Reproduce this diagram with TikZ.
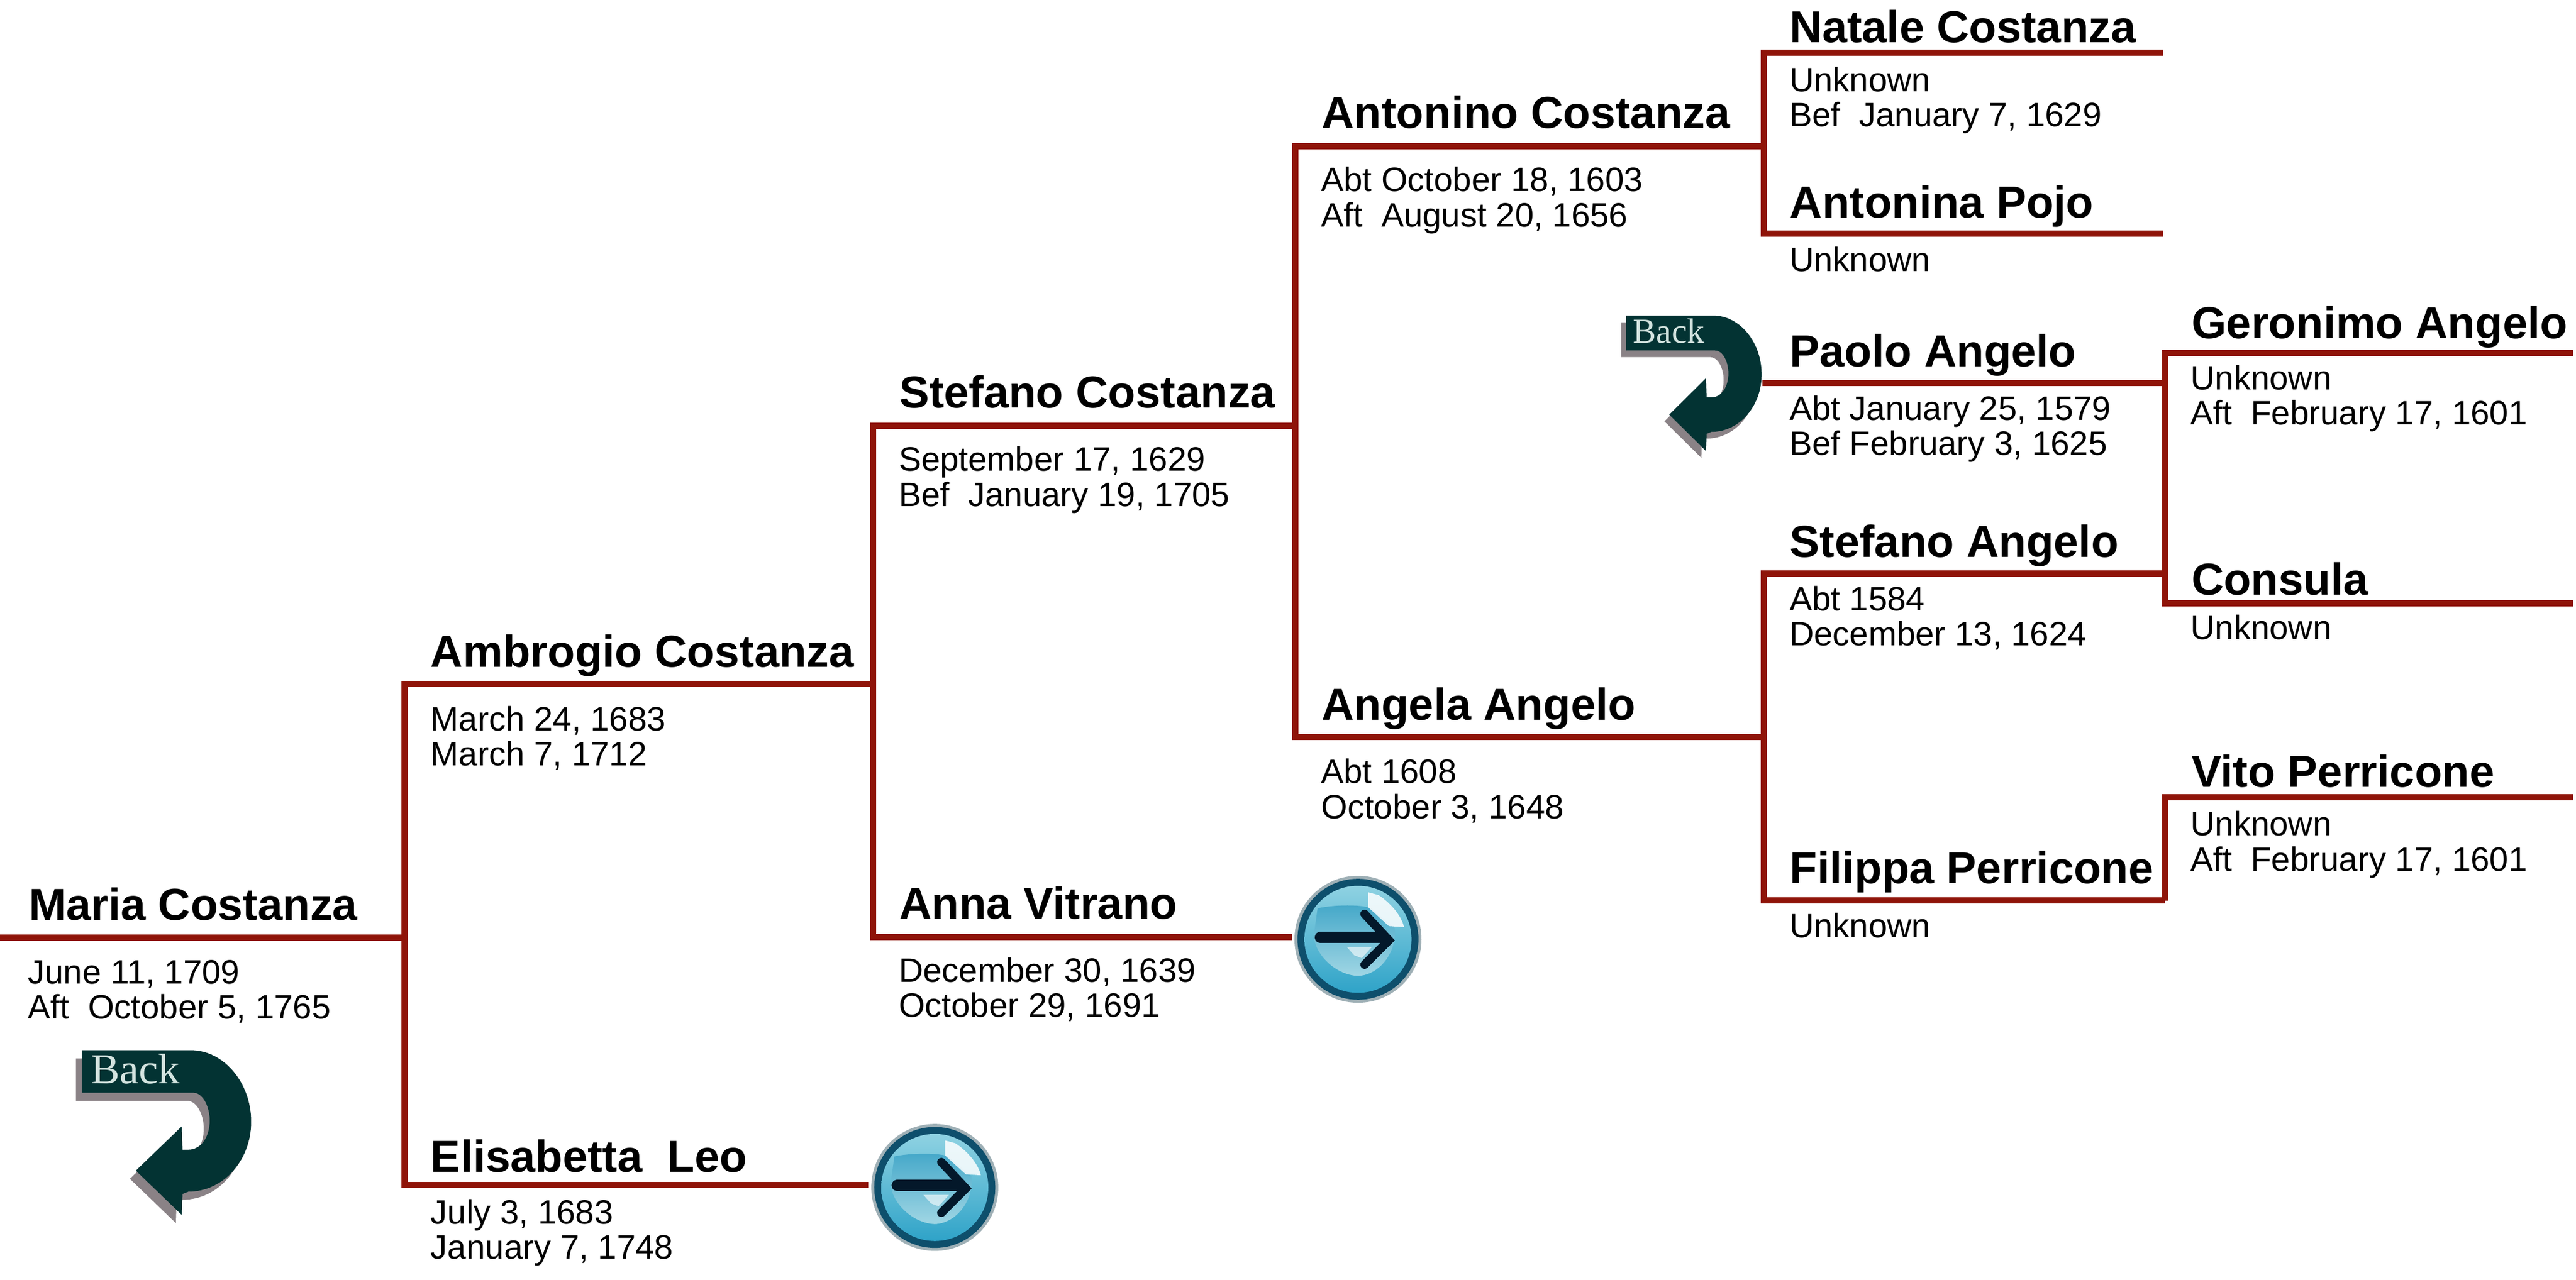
\documentclass[tikz,border=0pt]{standalone}
\usepackage{fontspec}
\setmainfont{Liberation Sans}
\newfontfamily\backfont{Liberation Serif}
\definecolor{linkred}{HTML}{8F1409}
\definecolor{backgreen}{HTML}{033333}
\definecolor{backshadow}{HTML}{8A8286}
\definecolor{backtext}{HTML}{D4E4E0}
\definecolor{orbrim}{HTML}{0E4F6C}
\definecolor{orbedge}{HTML}{9FB0B6}
\definecolor{orbarrow}{HTML}{04182A}
\definecolor{orbA1}{HTML}{8CD0E2}
\definecolor{orbA2}{HTML}{2A9CC2}
\definecolor{orbB1}{HTML}{8FD2E2}
\definecolor{orbB2}{HTML}{2FA3C8}
\definecolor{orbC1}{HTML}{45A8C9}
\definecolor{orbC2}{HTML}{A0D6E4}
\tikzset{
  person/.style={anchor=base west,inner sep=0pt,outer sep=0pt,font=\fontsize{79.5}{90}\selectfont\bfseries},
  dates/.style={anchor=base west,inner sep=0pt,outer sep=0pt,align=left,font=\fontsize{60}{62.5}\selectfont},
  link/.style={draw=linkred,line width=11pt,line join=miter,line cap=butt},
  pics/backarrow/.style={code={
    \begin{scope}[x=0.3333pt,y=-0.3333pt]
      \def\backshape{(0,0) -- (460,0) .. controls (600,0) and (715,140) .. (715,307)
        .. controls (715,470) and (600,607) .. (450,607) -- (425,617) -- (422,707) -- (228,517)
        -- (422,327) -- (425,427) -- (450,427) .. controls (505,427) and (540,370) .. (540,302)
        .. controls (540,240) and (510,182) .. (470,182) -- (0,182) -- cycle}
      \fill[backshadow,shift={(-25,35)}] \backshape;
      \fill[backgreen] \backshape;
      \node[transform shape,anchor=base west,inner sep=0pt,text=backtext,font=\fontsize{61}{61}\selectfont\backfont] (label) at (38,144) {Back};
    \end{scope}
  }},
  pics/orb/.style={code={
    \begin{scope}[x=0.3333pt,y=-0.3333pt]
      \fill[orbedge] (0,0) circle[radius=338];
      \fill[orbrim] (0,0) circle[radius=322];
      \shade[top color=orbB1,bottom color=orbB2] (0,0) circle[radius=285];
      \shade[top color=orbC1,bottom color=orbC2] (-215,-165) .. controls (-120,-185) and (20,-185) .. (70,-165)
        -- (195,-60) .. controls (210,60) and (120,190) .. (0,195) .. controls (-120,190) and (-230,80) .. (-235,-20) -- cycle;
      \fill[white,opacity=0.85] (55,-250) -- (110,-235) .. controls (170,-195) and (230,-130) .. (245,-65) -- (165,-70) -- (55,-170) -- cycle;
      \fill[white,opacity=0.6] (-60,40) -- (75,40) -- (20,100) -- (-20,85) -- cycle;
      \draw[orbarrow,line width=20pt,line cap=round] (-200,-10) -- (130,-10);
      \draw[orbarrow,line width=15pt,line cap=round,line join=miter] (35,-135) -- (165,5) -- (35,135);
    \end{scope}
  }},
}
\begin{document}
\begin{tikzpicture}[x=2.916pt,y=-2.916pt]
\useasboundingbox (0,0) rectangle (1566.9,778.8);

% Names and dates
\node[person] (maria) at (17.5,560) {Maria Costanza};
\node[dates] (mariaD) at (17,620) {June 11, 1709\\Aft~ October 5, 1765};
\node[person] (ambrogio) at (262,406) {Ambrogio Costanza};
\node[dates] (ambrogioD) at (262,466) {March 24, 1683\\March 7, 1712};
\node[person] (elisabetta) at (262,713) {Elisabetta~ Leo};
\node[dates] (elisabettaD) at (262,766) {July 3, 1683\\January 7, 1748};
\node[person] (stefanoC) at (547,248) {Stefano Costanza};
\node[dates] (stefanoCD) at (546.7,308) {September 17, 1629\\Bef~ January 19, 1705};
\node[person] (anna) at (547,559) {Anna Vitrano};
\node[dates] (annaD) at (546.7,619) {December 30, 1639\\October 29, 1691};
\node[person] (antonino) at (804,78) {Antonino Costanza};
\node[dates] (antoninoD) at (803.7,138) {Abt October 18, 1603\\Aft~ August 20, 1656};
\node[person] (angela) at (804,438) {Angela Angelo};
\node[dates] (angelaD) at (803.7,498) {Abt 1608\\October 3, 1648};
\node[person] (natale) at (1088.7,26) {Natale Costanza};
\node[dates] (nataleD) at (1088.5,77) {Unknown\\Bef~ January 7, 1629};
\node[person] (antonina) at (1088.7,132.5) {Antonina Pojo};
\node[dates] (antoninaD) at (1088.5,165) {Unknown};
\node[person] (paolo) at (1088.7,223) {Paolo Angelo};
\node[dates] (paoloD) at (1088.5,277) {Abt January 25, 1579\\Bef February 3, 1625};
\node[person] (stefanoA) at (1088.7,339) {Stefano Angelo};
\node[dates] (stefanoAD) at (1088.5,393) {Abt 1584\\December 13, 1624};
\node[person] (filippa) at (1088.7,537.5) {Filippa Perricone};
\node[dates] (filippaD) at (1088.5,570.5) {Unknown};
\node[person] (geronimo) at (1333,206) {Geronimo Angelo};
\node[dates] (geronimoD) at (1332.5,258.5) {Unknown\\Aft~ February 17, 1601};
\node[person] (consula) at (1333,362) {Consula};
\node[dates] (consulaD) at (1332.5,389) {Unknown};
\node[person] (vito) at (1333,479) {Vito Perricone};
\node[dates] (vitoD) at (1332.5,530) {Unknown\\Aft~ February 17, 1601};

% Connector end points
\coordinate (mariaS) at (0,570.5);
\coordinate (j1a) at (246,570.5);
\coordinate (j1t) at (246,416.3);
\coordinate (j1b) at (246,721);
\coordinate (ambrogioE) at (531,416.3);
\coordinate (elisabettaE) at (528,721);
\coordinate (j2t) at (531,259);
\coordinate (j2b) at (531,570);
\coordinate (stefanoCE) at (788,259);
\coordinate (annaE) at (786,570);
\coordinate (j3t) at (788,89);
\coordinate (j3b) at (788,448.5);
\coordinate (antoninoE) at (1073,89);
\coordinate (angelaE) at (1073,448.5);
\coordinate (j4t) at (1073,32);
\coordinate (j4b) at (1073,142);
\coordinate (nataleE) at (1316,32);
\coordinate (antoninaE) at (1316,142);
\coordinate (paoloS) at (1072,233);
\coordinate (paoloE) at (1317,233);
\coordinate (j5t) at (1317,215);
\coordinate (j5b) at (1317,367);
\coordinate (geronimoE) at (1565,215);
\coordinate (consulaE) at (1565,367);
\coordinate (j6t) at (1073,349);
\coordinate (j6b) at (1073,548);
\coordinate (stefanoAE) at (1317,349);
\coordinate (filippaE) at (1317,548);
\coordinate (j7t) at (1317,485);
\coordinate (vitoE) at (1565,485);

% Connectors
\draw[link] (mariaS) -- (j1a);
\draw[link] (ambrogioE) -- (j1t) -- (j1b) -- (elisabettaE);
\draw[link] (stefanoCE) -- (j2t) -- (j2b) -- (annaE);
\draw[link] (antoninoE) -- (j3t) -- (j3b) -- (angelaE);
\draw[link] (nataleE) -- (j4t) -- (j4b) -- (antoninaE);
\draw[link] (paoloS) -- (paoloE);
\draw[link] (geronimoE) -- (j5t) -- (j5b) -- (consulaE);
\draw[link] (stefanoAE) -- (j6t) -- (j6b) -- (filippaE);
\draw[link] (vitoE) -- (j7t) -- (filippaE);

% Icons
\pic[xscale=1.26,yscale=1.24] (backA) at (49.8,639) {backarrow};
\pic[xscale=1.01,yscale=1.02] (backB) at (989,192) {backarrow};
\pic (orbA) at (568.6,722.5) {orb};
\pic (orbB) at (826,571.5) {orb};
\end{tikzpicture}
\end{document}
